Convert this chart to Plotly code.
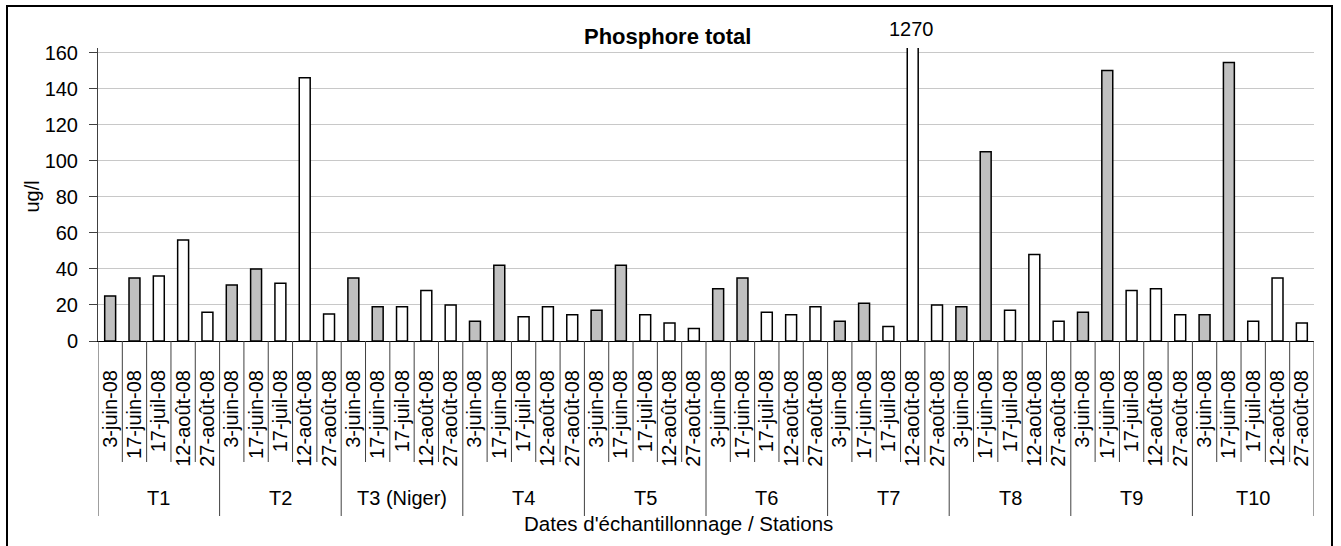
import plotly.graph_objects as go

# ---------------- data ----------------
stations = ["T1", "T2", "T3 (Niger)", "T4", "T5", "T6", "T7", "T8", "T9", "T10"]
dates = ["3-juin-08", "17-juin-08", "17-juil-08", "12-août-08", "27-août-08"]

t1 = [25, 35, 36, 56, 16]
t2 = [31, 40, 32, 146, 15]
t3 = [35, 19, 19, 28, 20]
t4 = [11, 42, 13.5, 19, 14.5]
t5 = [17, 42, 14.5, 10, 7]
t6 = [29, 35, 16, 14.5, 19]
t7 = [11, 21, 8, 1270, 20]
t8 = [19, 105, 17, 48, 11]
t9 = [16, 150, 28, 29, 14.5]
t10 = [14.5, 154.5, 11, 35, 10]
series = [t1, t2, t3, t4, t5, t6, t7, t8, t9, t10]

y_ticks = [0, 20, 40, 60, 80, 100, 120, 140, 160]
title_text = "Phosphore total"
y_title = "ug/l"
x_title = "Dates d'échantillonnage / Stations"
outlier_label = "1270"

# ---------------- build ----------------
values = [v for s in series for v in s]
date_labels = [d for _ in stations for d in dates]
xs = list(range(len(values)))
n_dates = len(dates)
fills = ["#c0c0c0" if "juin" in d else "#ffffff" for d in date_labels]
outlier_idx = values.index(max(values))

FONT = "Liberation Sans, Arial, sans-serif"
W, H = 1341, 546
ML, MR, MT, MB = 98, 27, 48, 205
PH = H - MT - MB
PW = W - ML - MR


def py(pix):
    return (H - MB - pix) / PH


def px(pix):
    return (pix - ML) / PW


fig = go.Figure()
fig.add_trace(go.Bar(
    x=xs, y=values,
    marker=dict(color=fills, line=dict(color="#000000", width=1.5)),
    width=0.45,
    showlegend=False,
    hoverinfo="y",
))

shapes = []
for i in range(len(values) + 1):
    group_edge = (i % n_dates == 0)
    shapes.append(dict(
        type="line", xref="x", yref="paper",
        x0=i - 0.5, x1=i - 0.5, y0=0, y1=py(516) if group_edge else py(462),
        line=dict(color="#404040", width=1),
    ))
# outer chart border
shapes.append(dict(
    type="rect", xref="paper", yref="paper",
    x0=px(7), x1=px(1332), y0=py(6), y1=py(560),
    line=dict(color="#000000", width=2), fillcolor="rgba(0,0,0,0)", layer="below",
))

annotations = []
for k, s in enumerate(stations):
    annotations.append(dict(
        x=k * n_dates + (n_dates - 1) / 2, y=py(498), xref="x", yref="paper",
        text=s, showarrow=False, font=dict(size=20, color="#000", family=FONT),
        xanchor="center", yanchor="middle",
    ))
annotations.append(dict(
    x=px(678), y=py(523), xref="paper", yref="paper", text=x_title,
    showarrow=False, font=dict(size=20.5, color="#000", family=FONT),
    xanchor="center", yanchor="middle",
))
annotations.append(dict(
    x=px(31.5), y=py(197), xref="paper", yref="paper", text=y_title, textangle=-90,
    showarrow=False, font=dict(size=20, color="#000", family=FONT),
    xanchor="center", yanchor="middle",
))
annotations.append(dict(
    x=px(667), y=py(36), xref="paper", yref="paper", text="<b>" + title_text + "</b>",
    showarrow=False, font=dict(size=22, color="#000", family=FONT),
    xanchor="center", yanchor="middle",
))
annotations.append(dict(
    x=outlier_idx - 0.05, y=py(28.5), xref="x", yref="paper", text=outlier_label,
    showarrow=False, font=dict(size=20, color="#000", family=FONT),
    xanchor="center", yanchor="middle",
))

fig.update_layout(
    width=W, height=H,
    margin=dict(l=ML, r=MR, t=MT, b=MB, pad=0),
    paper_bgcolor="#ffffff", plot_bgcolor="#ffffff",
    font=dict(family=FONT, size=20, color="#000000"),
    shapes=shapes, annotations=annotations,
    bargap=0.55,
    xaxis=dict(
        range=[-0.5, len(values) - 0.5],
        tickmode="array", tickvals=xs, ticktext=date_labels,
        tickangle=-90, ticks="", ticklen=0, ticklabelstandoff=20,
        tickfont=dict(size=20, family=FONT, color="#000"),
        showgrid=False, zeroline=False, automargin=False,
        showline=True, linecolor="#000000", linewidth=1,
    ),
    yaxis=dict(
        range=[0, 162.5],
        tickmode="array", tickvals=y_ticks,
        ticks="outside", ticklen=8, tickcolor="#404040", tickwidth=1,
        ticklabelstandoff=7,
        tickfont=dict(size=20, family=FONT, color="#000"),
        showgrid=True, gridcolor="#c8c8c8", gridwidth=1, automargin=False,
        zeroline=False, showline=True, linecolor="#404040", linewidth=1,
    ),
)

fig.write_html(
    "out.html",
    config={"displayModeBar": False},
    post_script="document.body.style.margin='0px';document.body.style.overflow='hidden';",
)
